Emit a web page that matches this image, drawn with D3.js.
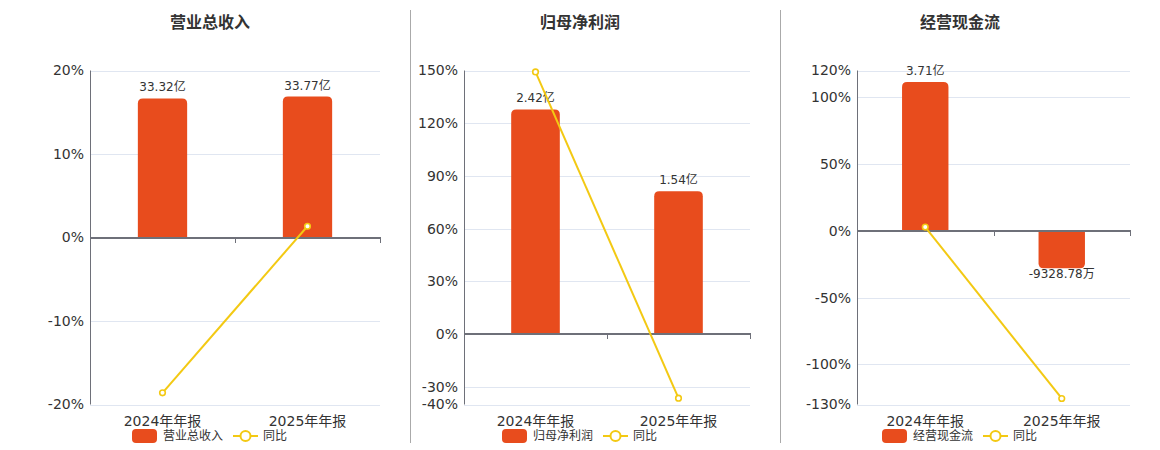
<!DOCTYPE html>
<html><head><meta charset="utf-8">
<script src="https://cdn.jsdelivr.net/npm/d3@7/dist/d3.min.js"></script>
<style>
body{margin:0;background:#fff;}
svg{display:block;font-family:"DejaVu Sans","Noto Sans CJK SC",sans-serif;}
</style></head>
<body><svg id="c" width="1160" height="450"></svg>
<script>
const categories = ["2024年年报", "2025年年报"];
const titles = ["营业总收入", "归母净利润", "经营现金流"];
const revenueValues = [33.32, 33.77];
const revenueLabels = ["33.32亿", "33.77亿"];
const revenueYoy = [-18.6, 1.35];
const revenueTicks = [-20, -10, 0, 10, 20];
const profitValues = [2.42, 1.54];
const profitLabels = ["2.42亿", "1.54亿"];
const profitYoy = [149.2, -36.4];
const profitTicks = [-40, -30, 0, 30, 60, 90, 120, 150];
const cashValues = [3.71, -0.932878];
const cashLabels = ["3.71亿", "-9328.78万"];
const cashYoy = [2.8, -125.5];
const cashTicks = [-130, -100, -50, 0, 50, 100, 120];
const barAxisMax = [40, 2.84, 4];

const panels = [
  {title: titles[0], values: revenueValues, labels: revenueLabels, yoy: revenueYoy, ticks: revenueTicks, barMax: barAxisMax[0], left: 90, right: 380, center: 210},
  {title: titles[1], values: profitValues, labels: profitLabels, yoy: profitYoy, ticks: profitTicks, barMax: barAxisMax[1], left: 464, right: 750, center: 580},
  {title: titles[2], values: cashValues, labels: cashLabels, yoy: cashYoy, ticks: cashTicks, barMax: barAxisMax[2], left: 857, right: 1130, center: 960}
];

const BAR = "#E84C1D", LINE = "#F3C913", AXIS = "#6E7079", GRID = "#E0E6F1", TEXT = "#333";
const plotTop = 70.5, plotBottom = 404.5;
const svg = d3.select("#c");

// separators
[410.5, 780.5].forEach(x => svg.append("line").attr("x1", x).attr("x2", x).attr("y1", 10).attr("y2", 443)
  .attr("stroke", "#aaa").attr("stroke-width", 1));

function roundedBar(x, w, y0, y1, r) {
  const h = Math.abs(y1 - y0);
  r = Math.min(r, h, w / 2);
  if (y1 <= y0) {
    return `M${x},${y0}V${y1 + r}Q${x},${y1} ${x + r},${y1}H${x + w - r}Q${x + w},${y1} ${x + w},${y1 + r}V${y0}Z`;
  } else {
    return `M${x},${y0}V${y1 - r}Q${x},${y1} ${x + r},${y1}H${x + w - r}Q${x + w},${y1} ${x + w},${y1 - r}V${y0}Z`;
  }
}

panels.forEach(p => {
  const g = svg.append("g");
  const yMin = d3.min(p.ticks), yMax = d3.max(p.ticks);
  const y = d3.scaleLinear().domain([yMin, yMax]).range([plotBottom, plotTop]);
  const barMin = p.barMax * yMin / yMax;
  const yb = d3.scaleLinear().domain([barMin, p.barMax]).range([plotBottom, plotTop]);
  const x = d3.scaleBand().domain(categories).range([p.left, p.right]).paddingInner(0.66).paddingOuter(0.33);
  const xb = d3.scaleBand().domain(categories).range([p.left, p.right]);

  g.append("text").attr("x", p.center).attr("y", 28).attr("text-anchor", "middle")
    .attr("font-size", 16).attr("font-weight", "bold").attr("fill", TEXT).text(p.title);

  g.selectAll(".grid").data(p.ticks).join("line")
    .attr("x1", p.left).attr("x2", p.right)
    .attr("y1", d => Math.round(y(d)) + 0.5).attr("y2", d => Math.round(y(d)) + 0.5)
    .attr("stroke", GRID).attr("stroke-width", 1);

  g.selectAll(".yl").data(p.ticks).join("text")
    .attr("x", p.left - 6).attr("y", d => y(d)).attr("dy", "0.35em")
    .attr("text-anchor", "end").attr("font-size", 14).attr("fill", TEXT)
    .text(d => d + "%");

  g.append("line").attr("x1", p.left + 0.5).attr("x2", p.left + 0.5).attr("y1", plotTop).attr("y2", plotBottom)
    .attr("stroke", AXIS).attr("stroke-width", 1);

  g.selectAll(".bar").data(p.values).join("path")
    .attr("d", (d, i) => roundedBar(x(categories[i]), x.bandwidth(), yb(0), yb(d), 5))
    .attr("fill", BAR);

  g.selectAll(".bl").data(p.values).join("text")
    .attr("x", (d, i) => x(categories[i]) + x.bandwidth() / 2)
    .attr("y", d => d >= 0 ? yb(d) - 7 : yb(d) + 10)
    .attr("text-anchor", "middle").attr("font-size", 12).attr("fill", TEXT)
    .text((d, i) => p.labels[i]);

  const y0 = Math.round(y(0));
  g.append("line").attr("x1", p.left).attr("x2", p.right + 1).attr("y1", y0).attr("y2", y0)
    .attr("stroke", AXIS).attr("stroke-width", 2);
  const tickXs = [p.left, ...categories.map(c => xb(c) + xb.bandwidth())];
  g.selectAll(".tk").data(tickXs).join("line")
    .attr("x1", d => Math.round(d) + 0.5).attr("x2", d => Math.round(d) + 0.5)
    .attr("y1", y0).attr("y2", y0 + 5).attr("stroke", AXIS).attr("stroke-width", 1);

  g.selectAll(".cl").data(categories).join("text")
    .attr("x", d => xb(d) + xb.bandwidth() / 2).attr("y", 426)
    .attr("text-anchor", "middle").attr("font-size", 14).attr("fill", TEXT).text(d => d);

  const line = d3.line().x((d, i) => xb(categories[i]) + xb.bandwidth() / 2).y(d => y(d));
  g.append("path").datum(p.yoy).attr("d", line).attr("fill", "none").attr("stroke", LINE).attr("stroke-width", 2);
  g.selectAll(".pt").data(p.yoy).join("circle")
    .attr("cx", (d, i) => xb(categories[i]) + xb.bandwidth() / 2).attr("cy", d => y(d))
    .attr("r", 2.8).attr("fill", "#fff").attr("stroke", LINE).attr("stroke-width", 1.6);

  const ly = 436, c = p.center;
  g.append("rect").attr("x", c - 78).attr("y", ly - 7).attr("width", 25).attr("height", 14).attr("rx", 4).attr("fill", BAR);
  g.append("text").attr("x", c - 47).attr("y", ly).attr("dy", "0.35em").attr("font-size", 12).attr("fill", TEXT).text(p.title);
  g.append("line").attr("x1", c + 23).attr("x2", c + 48).attr("y1", ly).attr("y2", ly).attr("stroke", LINE).attr("stroke-width", 2);
  g.append("circle").attr("cx", c + 35.5).attr("cy", ly).attr("r", 5).attr("fill", "#fff").attr("stroke", LINE).attr("stroke-width", 2);
  g.append("text").attr("x", c + 53).attr("y", ly).attr("dy", "0.35em").attr("font-size", 12).attr("fill", TEXT).text("同比");
});
</script></body></html>
